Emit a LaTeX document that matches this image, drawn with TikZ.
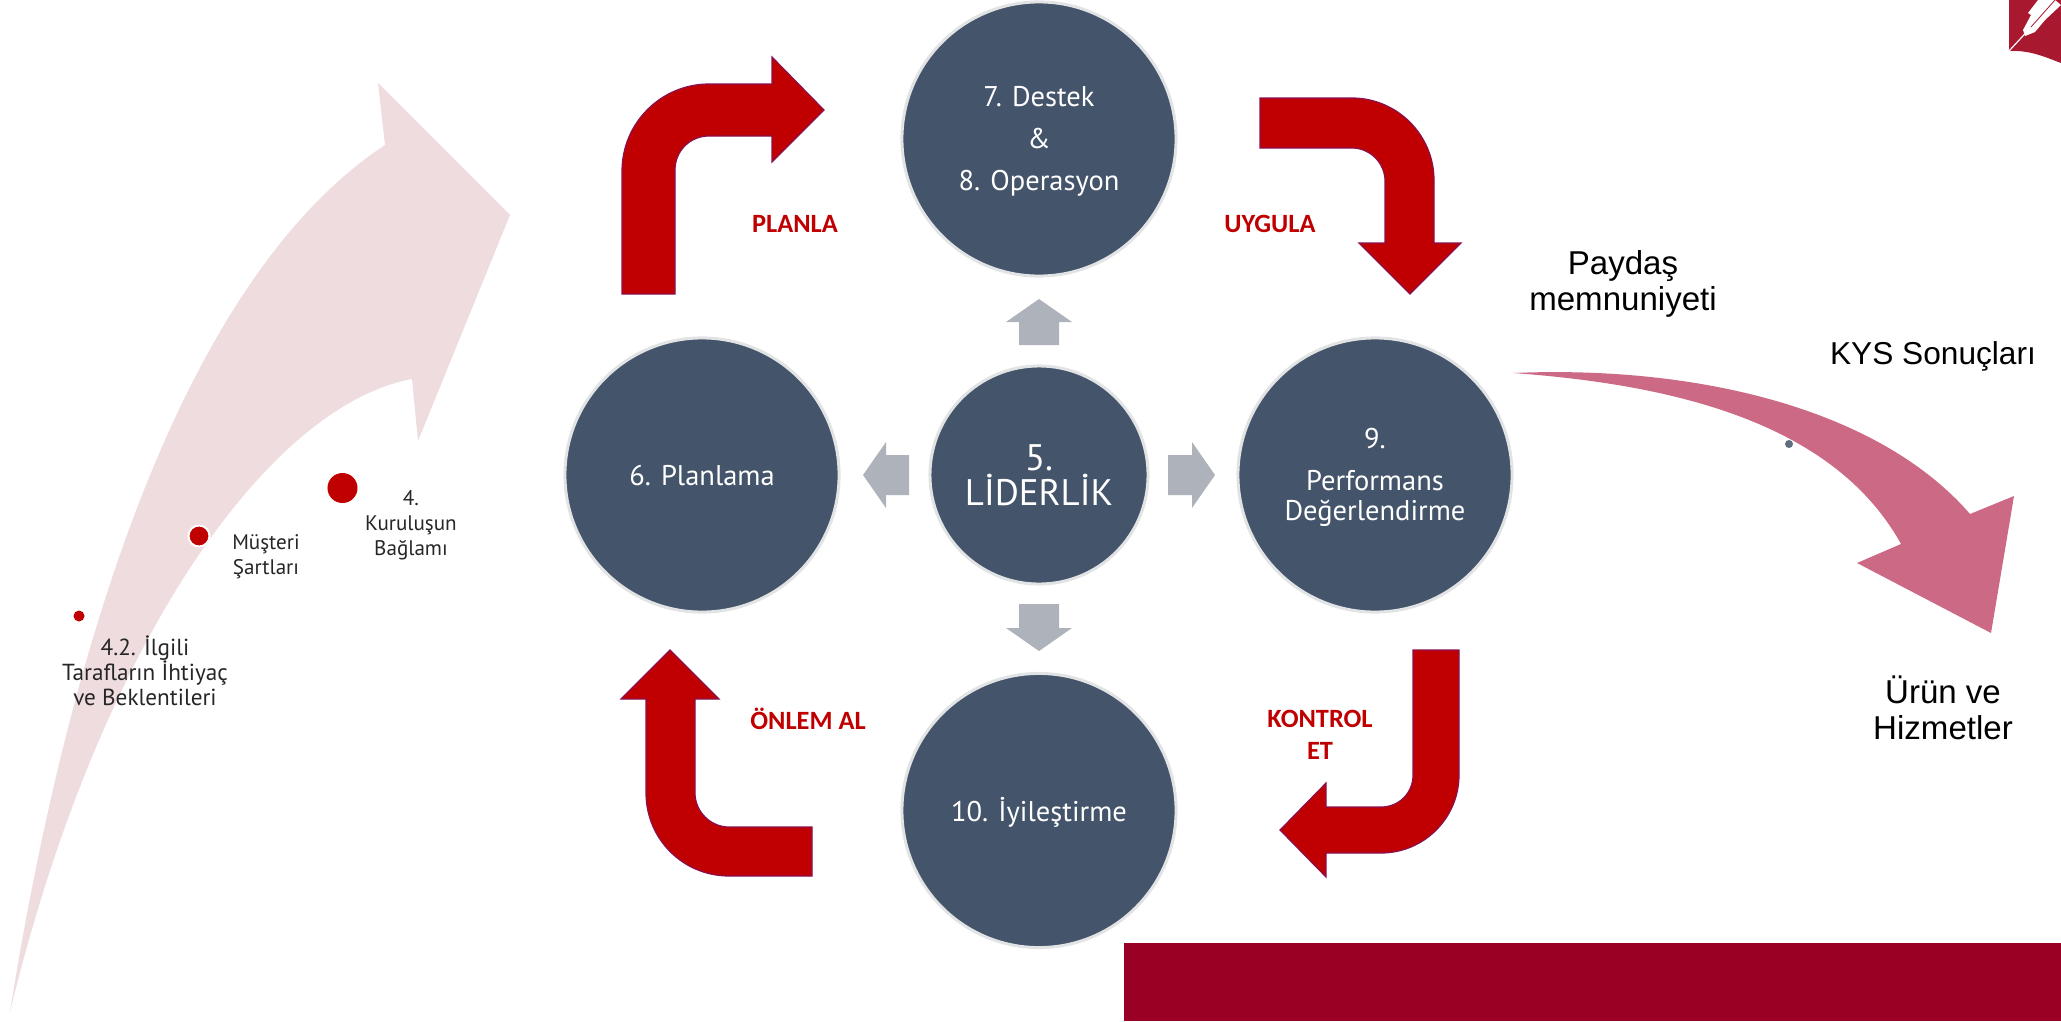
\documentclass[tikz,border=0pt]{standalone}
\usepackage{fontspec}
\setmainfont{PT Sans}
\newfontfamily\redfont{Carlito}
\newfontfamily\darkfont{Liberation Sans}
\usetikzlibrary{positioning}
\definecolor{slate}{HTML}{44546A}
\definecolor{ringgray}{HTML}{E2E3E5}
\definecolor{stepred}{HTML}{C00000}
\definecolor{stepedge}{HTML}{8A1050}
\definecolor{softgray}{HTML}{AEB2BA}
\definecolor{paleback}{HTML}{EFDCDF}
\definecolor{rosearrow}{HTML}{CC6985}
\definecolor{bandred}{HTML}{990024}
\definecolor{logored}{HTML}{A8182F}
\tikzset{
  bigcircle/.style={circle, fill=slate, draw=ringgray, line width=0.03cm, minimum size=2.74cm, inner sep=0pt, text=white, align=center, font=\fontsize{8.1}{8.5}\selectfont},
  stepbend/.style={fill=stepred, draw=stepedge, line width=0.012cm},
  softarrow/.style={fill=softgray},
  redlabel/.style={text=stepred, align=center, font=\redfont\bfseries\fontsize{7.5}{9.2}\selectfont},
  darklabel/.style={text=black, align=center, font=\darkfont\fontsize{9.4}{10.1}\selectfont},
  smalllabel/.style={text=black!85, align=center, font=\fontsize{6}{7.1}\selectfont},
  reddot/.style={circle, fill=stepred, inner sep=0pt},
  circletext/.style={text=white, align=center, font=\fontsize{8.1}{8.5}\selectfont}
}
\begin{document}
\begin{tikzpicture}[x=0.01cm, y=-0.01cm]
\useasboundingbox (0,0) rectangle (2061,1021);

\fill[paleback] (10,1012) .. controls (50,760) and (150,300) .. (385,145) -- (378,83) -- (510,215) -- (418,441) -- (412,379) .. controls (270,405) and (100,640) .. (10,1012) -- cycle;

\path (79,616) node[reddot, minimum size=0.11cm] (dot1) {};
\path (199,536) node[reddot, minimum size=0.21cm, draw=white, line width=0.02cm] (dot2) {};
\path (342.5,488) node[reddot, minimum size=0.3cm] (dot3) {};

\path (145,671) node[smalllabel, font=\fontsize{6.6}{7.1}\selectfont] (need) {4.2. İlgili\\Tarafların İhtiyaç\\ve Beklentileri};
\path (266,557) node[smalllabel] (customer) {Müşteri\\Şartları};
\path (411,525) node[smalllabel] (context) {4.\\Kuruluşun\\Bağlamı};

\path (1039,139) node[bigcircle] (c7) {};
\path (702,475) node[bigcircle] (c6) {};
\path (1375,475) node[bigcircle] (c9) {};
\path (1039,810.5) node[bigcircle] (c10) {};
\path (1039,475) node[bigcircle, minimum size=2.18cm] (c5) {};

\path (1039,141) node[circletext] (t7) {7. Destek\\[0.12cm]\&\\[0.12cm]8. Operasyon};
\path (702,476) node[circletext] (t6) {6. Planlama};
\path (1375,477) node[circletext] (t9) {9.\\[0.12cm]Performans\\Değerlendirme};
\path (1039,812.5) node[circletext] (t10) {10. İyileştirme};
\path (1039,475) node[circletext, font=\fontsize{10.5}{10}\selectfont] (t5) {5.\\LİDERLİK};

\fill[softarrow] (1039,299) -- (1072,322) -- (1059,322) -- (1059,345) -- (1019,345) -- (1019,322) -- (1006,322) -- cycle;
\fill[softarrow] (1039,651) -- (1072,628) -- (1059,628) -- (1059,604) -- (1019,604) -- (1019,628) -- (1006,628) -- cycle;
\fill[softarrow] (863,475) -- (886,442) -- (886,455) -- (909,455) -- (909,495) -- (886,495) -- (886,508) -- cycle;
\fill[softarrow] (1215,475) -- (1192,442) -- (1192,455) -- (1168,455) -- (1168,495) -- (1192,495) -- (1192,508) -- cycle;

\draw[stepbend] (622,294) -- (622,171) .. controls (622,123) and (661,84) .. (709,84) -- (772,84) -- (772,57) -- (824,110) -- (772,162) -- (772,136) -- (709,136) .. controls (690,136) and (675,151) .. (675,170) -- (675,294) -- cycle;
\draw[stepbend] (1260,98) -- (1352,98) .. controls (1397,98) and (1434,135) .. (1434,180) -- (1434,243) -- (1461,243) -- (1410,294) -- (1359,243) -- (1385,243) -- (1385,181) .. controls (1385,163) and (1370,148) .. (1352,148) -- (1260,148) -- cycle;
\draw[stepbend] (1459,650) -- (1459,775) .. controls (1459,818) and (1424,853) .. (1381,853) -- (1326,853) -- (1326,877) -- (1280,830) -- (1326,783) -- (1326,807) -- (1381,807) .. controls (1399,807) and (1413,793) .. (1413,775) -- (1413,650) -- cycle;
\draw[stepbend] (670,650) -- (719,699) -- (695,699) -- (695,793) .. controls (695,811) and (710,827) .. (729,827) -- (812,827) -- (812,876) -- (729,876) .. controls (683,876) and (646,839) .. (646,793) -- (646,699) -- (621,699) -- cycle;

\path (795,224) node[redlabel] (plan) {PLANLA};
\path (1270,224) node[redlabel] (act) {UYGULA};
\path (808,719) node[redlabel] (fix) {ÖNLEM AL};
\path (1320,735) node[redlabel] (check) {KONTROL\\ET};

\fill[rosearrow] (1513,373) .. controls (1700,365) and (1880,410) .. (1970,514) -- (2014,496) -- (1991,633) -- (1857,563) -- (1901,544) .. controls (1835,425) and (1680,385) .. (1513,373) -- cycle;
\path (1789,444) node[circle, fill=slate!85, minimum size=0.08cm, inner sep=0pt] (mark) {};

\path (1623,284) node[darklabel] (party) {Paydaş\\memnuniyeti};
\path (1933,356) node[darklabel, font=\darkfont\fontsize{9}{10.1}\selectfont] (result) {KYS Sonuçları};
\path (1943,708) node[darklabel] (product) {Ürün ve\\Hizmetler};

\fill[bandred] (1124,943) rectangle (2061,1021);

\fill[logored] (2009,0) -- (2061,0) -- (2061,63) .. controls (2045,57) and (2030,50) .. (2009,51) -- cycle;
\fill[white] (2038,0) -- (2028,13) -- (2031,15) -- (2023,30) -- (2025,36) -- (2035,32) -- (2045,20) -- (2061,5) -- (2055,0) -- cycle;
\draw[white, line width=0.012cm] (2009,51) -- (2045,12);
\draw[logored, line width=0.008cm] (2031,27) -- (2055,0);
\end{tikzpicture}
\end{document}
